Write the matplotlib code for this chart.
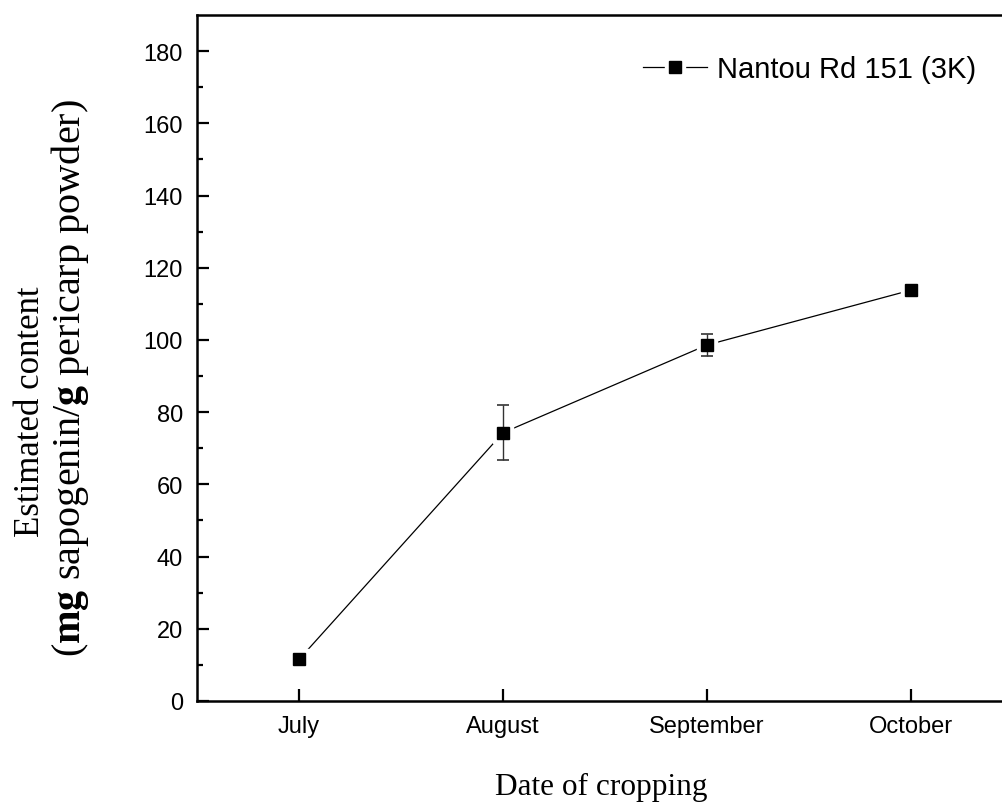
import numpy as np
import matplotlib
matplotlib.use("Agg")
import matplotlib.pyplot as plt
from matplotlib.legend_handler import HandlerTuple

plt.rcParams["font.family"] = ["Liberation Sans", "DejaVu Sans"]
plt.rcParams["mathtext.fontset"] = "custom"
plt.rcParams["mathtext.rm"] = "Liberation Serif"
plt.rcParams["mathtext.bf"] = "Liberation Serif:bold"

# data
months = ["July", "August", "September", "October"]
content = [11.5, 74.3, 98.6, 113.8]
content_err = [0.8, 7.6, 3.0, 0.8]
series_label = "Nantou Rd 151 (3K)"

fig = plt.figure(figsize=(10.03, 8.03), dpi=100)
ax = fig.add_axes([197 / 1003, 101 / 803, 816 / 1003, 686 / 803])

x = np.arange(len(months))

# thin connecting line, white squares give the gap round each marker
line_h, = ax.plot(x, content, color="black", lw=0.9, zorder=2)
white_h, = ax.plot(x, content, ls="none", marker="s", ms=14, mfc="white", mec="white", zorder=3)
ax.errorbar(x, content, yerr=content_err, fmt="none", ecolor="#333333",
            elinewidth=1.0, capsize=4, capthick=1.2, zorder=4)
black_h, = ax.plot(x, content, ls="none", marker="s", ms=9.2, mfc="black", mec="black", zorder=5)

fig.legend([(line_h, white_h, black_h)], [series_label], loc="center left",
           bbox_to_anchor=(643 / 1003, 1 - 70 / 803),
           handler_map={tuple: HandlerTuple(ndivide=1, pad=0)},
           frameon=False, fontsize=21, handlelength=2.2, handletextpad=0.35,
           borderpad=0, borderaxespad=0)

ax.set_xlim(-0.5, 3.5)
ax.set_ylim(0, 190)
ax.set_xticks(x)
ax.set_xticklabels(months)
ax.set_yticks(np.arange(0, 181, 20))
ax.set_yticks(np.arange(10, 190, 20), minor=True)

for s in ax.spines.values():
    s.set_linewidth(1.8)
ax.tick_params(axis="both", which="major", direction="in", length=8.5, width=1.6,
               labelsize=17, pad=10)
ax.tick_params(axis="y", which="minor", direction="in", length=4, width=1.6)
ax.tick_params(axis="x", which="minor", bottom=False)

fig.text(601 / 1003, 1 - 795 / 803, "Date of cropping", family="Liberation Serif",
         fontsize=22.5, ha="center", va="baseline")
fig.text(31 / 1003, 1 - 412 / 803, "Estimated content", family="Liberation Serif",
         fontsize=25, ha="center", va="center", rotation=90)
fig.text(70 / 1003, 1 - 378 / 803, r"($\mathbf{mg}$ sapogenin/$\mathbf{g}$ pericarp powder)",
         family="Liberation Serif", fontsize=29, ha="center", va="center", rotation=90)

fig.savefig("out.png", dpi=100)
